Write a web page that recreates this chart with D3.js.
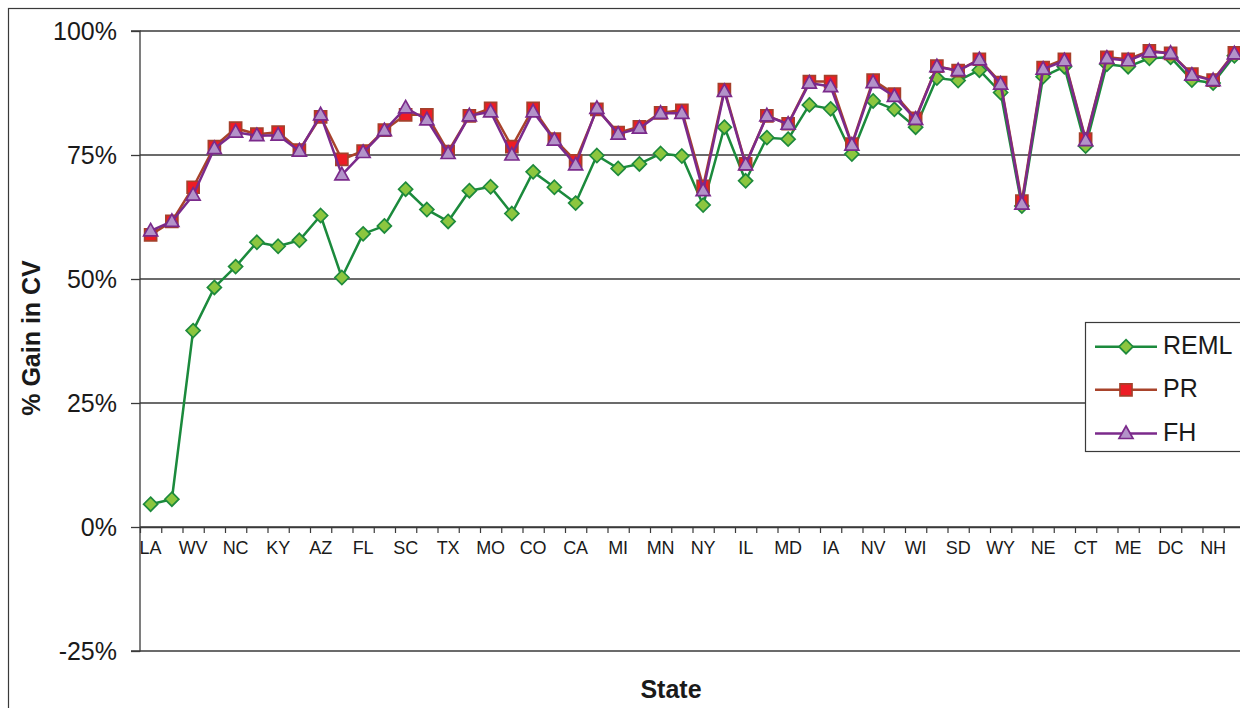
<!DOCTYPE html>
<html>
<head>
<meta charset="utf-8">
<script src="https://cdn.jsdelivr.net/npm/d3@7/dist/d3.min.js"></script>
<style>
  html, body { margin: 0; padding: 0; background: #fff; overflow: hidden; }
  svg { display: block; font-family: "Liberation Sans", Arial, Helvetica, sans-serif; }
</style>
</head>
<body>
<svg id="chart" width="1240" height="708"></svg>
<script>
// ---- data ----
// x-axis labels (every other category is labelled, as in the original)
const categories = ["LA","","WV","","NC","","KY","","AZ","","FL","","SC","","TX","","MO","","CO","","CA","","MI","","MN","",
                    "NY","","IL","","MD","","IA","","NV","","WI","","SD","","WY","","NE","","CT","","ME","","DC","","NH",""];
const seriesNames = ["REML", "PR", "FH"];
const reml = [4.6,5.6,39.6,48.3,52.5,57.4,56.6,57.8,62.8,50.3,59.1,60.7,68.1,64.0,61.6,67.8,68.6,63.2,71.6,68.5,65.3,74.9,72.3,73.2,75.3,74.8,
              64.9,80.6,69.8,78.5,78.2,85.1,84.3,75.2,85.9,84.2,80.6,90.5,90.0,92.1,87.6,64.7,90.8,92.8,76.8,93.3,92.8,94.5,94.7,90.1,89.5,95.0];
const pr   = [58.9,61.6,68.5,76.7,80.4,79.2,79.6,76.0,82.7,74.1,75.8,80.0,83.1,83.1,75.7,82.9,84.4,76.7,84.4,78.2,73.8,84.2,79.5,80.7,83.5,84.0,
              68.7,88.2,73.2,82.9,81.3,89.8,89.8,77.2,90.1,87.3,82.4,92.9,92.0,94.3,89.6,65.7,92.6,94.3,78.2,94.7,94.3,96.0,95.5,91.3,90.1,95.6];
const fh   = [59.7,61.6,66.9,76.3,79.6,78.9,79.0,75.8,83.1,71.0,75.5,79.9,84.5,82.1,75.3,82.9,83.7,75.0,83.7,78.0,73.0,84.4,79.2,80.4,83.4,83.4,
              67.8,87.8,73.0,82.9,81.2,89.5,88.8,77.0,89.6,86.8,82.2,92.8,92.0,94.2,89.3,65.1,92.3,94.0,77.9,94.5,94.0,95.8,95.5,91.1,90.0,95.4];
const yTicks = [-25, 0, 25, 50, 75, 100];
const xTitle = "State";
const yTitle = "% Gain in CV";

// ---- styles ----
const styles = {
  REML: { line: "#1b8a3c", fill: "#8cc63f", stroke: "#1e8a3c", shape: "diamond" },
  PR:   { line: "#a8432b", fill: "#ed1c24", stroke: "#a5402b", shape: "square" },
  FH:   { line: "#7b2a8b", fill: "#b393c9", stroke: "#7b2a8b", shape: "triangle" }
};
const shapes = {
  diamond:  "M0,-7L7,0L0,7L-7,0Z",
  square:   "M-6,-6H6V6H-6Z",
  triangle: "M0,-7.5L7,5H-7Z"
};

(function () {
const svg = d3.select("#chart");
const plotLeft = 140, plotTop = 31, plotBottom = 651;
const n = categories.length;
const bandW = 21.25;
const plotRight = plotLeft + n * bandW;

const x = d3.scaleBand().domain(d3.range(n)).range([plotLeft, plotRight]).paddingInner(0).paddingOuter(0);
const xb = d3.scaleLinear().domain([0, n]).range([plotLeft, plotRight]);
const y = d3.scaleLinear().domain([-25, 100]).range([plotBottom, plotTop]);

// outer frame (cut at right and bottom like the original)
svg.append("rect").attr("x", 8.5).attr("y", 8.5).attr("width", 1400).attr("height", 900)
  .attr("fill", "none").attr("stroke", "#3a3a3a").attr("stroke-width", 1.2);

// gridlines
svg.append("g").selectAll("line").data(yTicks).join("line")
  .attr("x1", plotLeft).attr("x2", plotRight)
  .attr("y1", d => y(d)).attr("y2", d => y(d))
  .attr("stroke", "#3a3a3a").attr("stroke-width", 1.3);

// y axis
const yAxis = d3.axisLeft(y).tickValues(yTicks).tickFormat(d => d + "%").tickSize(9).tickPadding(14);
const gy = svg.append("g").attr("transform", `translate(${plotLeft},0)`).call(yAxis);
gy.select(".domain").attr("stroke", "#3a3a3a").attr("stroke-width", 1.3).attr("d", `M-9,${plotTop}H0V${plotBottom}H-9`);
gy.selectAll(".tick line").attr("stroke", "#3a3a3a").attr("stroke-width", 1.3);
gy.selectAll(".tick text").attr("font-size", 25).attr("fill", "#1a1a1a")
  .attr("font-family", "'Liberation Sans', Arial, sans-serif");

// x axis tick marks at category boundaries
const xTickAxis = d3.axisBottom(xb).tickValues(d3.range(0, n + 1)).tickFormat("").tickSize(6).tickSizeOuter(0);
const gxt = svg.append("g").attr("transform", `translate(0,${y(0)})`).call(xTickAxis);
gxt.select(".domain").attr("stroke", "#3a3a3a").attr("stroke-width", 1.3);
gxt.selectAll(".tick line").attr("stroke", "#3a3a3a").attr("stroke-width", 1.2);

// x axis labels
const xAxis = d3.axisBottom(x).tickValues(d3.range(0, n, 2)).tickFormat(i => categories[i]).tickSize(0).tickPadding(14);
const gx = svg.append("g").attr("transform", `translate(0,${y(0)})`).call(xAxis);
gx.select(".domain").remove();
gx.selectAll(".tick text").attr("font-size", 18).attr("fill", "#1a1a1a")
  .attr("font-family", "'Liberation Sans', Arial, sans-serif");

// series
const allSeries = [
  { name: "REML", values: reml },
  { name: "PR", values: pr },
  { name: "FH", values: fh }
];
const line = d3.line().x((d, i) => x(i) + x.bandwidth() / 2).y(d => y(d));
allSeries.forEach(s => {
  const st = styles[s.name];
  svg.append("path").datum(s.values).attr("d", line)
    .attr("fill", "none").attr("stroke", st.line).attr("stroke-width", 2.5).attr("stroke-linejoin", "round");
  svg.append("g").selectAll("path").data(s.values).join("path")
    .attr("d", shapes[st.shape])
    .attr("transform", (d, i) => `translate(${x(i) + x.bandwidth() / 2},${y(d)})`)
    .attr("fill", st.fill).attr("stroke", st.stroke).attr("stroke-width", 1.7);
});

// axis titles
svg.append("text").attr("x", 671).attr("y", 698).attr("text-anchor", "middle")
  .attr("font-size", 25).attr("font-weight", "bold").attr("fill", "#1a1a1a").text(xTitle);
svg.append("text").attr("transform", "translate(40,338) rotate(-90)").attr("text-anchor", "middle")
  .attr("font-size", 25).attr("font-weight", "bold").attr("fill", "#1a1a1a").text(yTitle);

// legend
const lg = svg.append("g");
lg.append("rect").attr("x", 1085.5).attr("y", 322.5).attr("width", 300).attr("height", 129)
  .attr("fill", "#fff").attr("stroke", "#3a3a3a").attr("stroke-width", 1.2);
const rowY = [346.7, 389.8, 433.5];
seriesNames.forEach((name, k) => {
  const st = styles[name];
  const cy = rowY[k];
  lg.append("line").attr("x1", 1095).attr("x2", 1157).attr("y1", cy).attr("y2", cy)
    .attr("stroke", st.line).attr("stroke-width", 2.5);
  lg.append("path").attr("d", shapes[st.shape]).attr("transform", `translate(1126,${cy})`)
    .attr("fill", st.fill).attr("stroke", st.stroke).attr("stroke-width", 1.7);
  lg.append("text").attr("x", 1163).attr("y", cy + 7.5).attr("font-size", 25).attr("fill", "#1a1a1a").text(name);
});
})();
</script>
</body>
</html>
